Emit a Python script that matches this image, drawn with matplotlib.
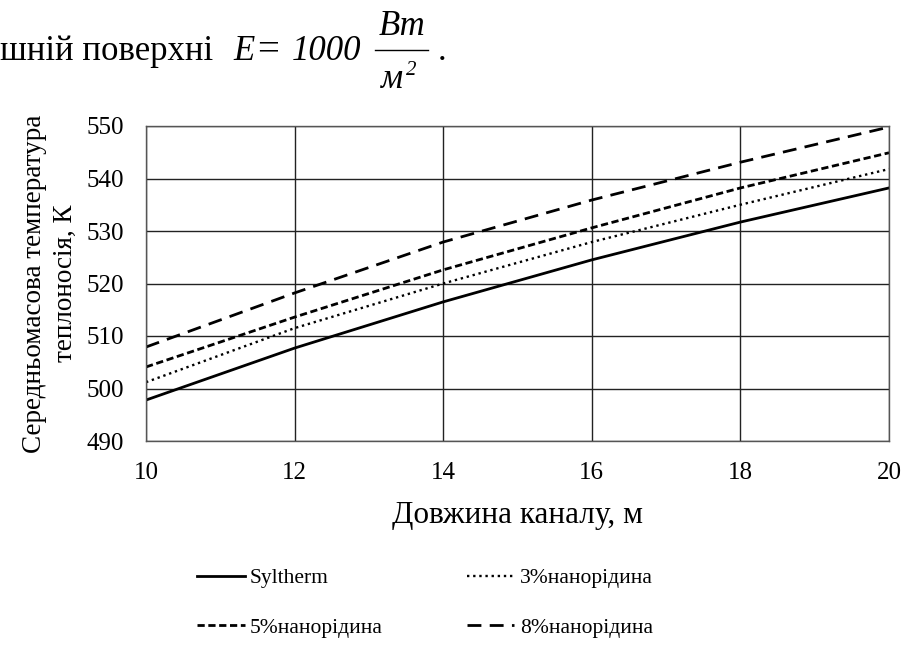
import numpy as np
import matplotlib.pyplot as plt
from matplotlib.lines import Line2D

plt.rcParams['font.family'] = ['Liberation Serif', 'DejaVu Serif']

# values
length = [10, 12, 14, 16, 18, 20]
syltherm = [497.8, 507.7, 516.5, 524.5, 531.7, 538.2]
nano3 = [501.2, 511.5, 520.0, 527.9, 535.0, 541.8]
nano5 = [504.1, 513.6, 522.6, 530.6, 538.2, 544.9]
nano8 = [507.9, 518.2, 527.9, 535.9, 543.1, 549.8]

W, H = 904, 665
fig = plt.figure(figsize=(W / 100, H / 100), dpi=100)
ax = fig.add_axes([146 / W, 1 - 441 / H, 743 / W, 315 / H])

l1, = ax.plot(length, syltherm, color='black', lw=2.0, ls='-')
l3, = ax.plot(length, nano3, color='black', lw=1.7, ls=(0, (1, 1.6)))
l5, = ax.plot(length, nano5, color='black', lw=2.0, ls=(0, (2.6, 1.3)))
l8, = ax.plot(length, nano8, color='black', lw=2.0, ls=(0, (5, 3)))

ax.set_xlim(10, 20)
ax.set_ylim(490, 550)
ax.set_xticks(range(10, 21, 2))
ax.set_yticks(range(490, 551, 10))
ax.grid(True, color='#222222', lw=1.0)
ax.tick_params(axis='y', length=0, labelsize=18, pad=16)
ax.tick_params(axis='x', length=0, labelsize=18, pad=15)
for s in ax.spines.values():
    s.set_color('#555555')
    s.set_linewidth(1.0)

ax.set_xlabel('Довжина каналу, м', fontsize=22.5, labelpad=12)
ax.set_ylabel('Середньомасова температура\nтеплоносія, К', fontsize=19.5,
              labelpad=6, linespacing=1.3)

fig.legend([l1, l5, l3, l8],
           ['Syltherm', '5%нанорідина', '3%нанорідина', '8%нанорідина'],
           ncol=2, loc='upper left', bbox_to_anchor=(178 / W, 1 - 549 / H),
           frameon=False, fontsize=15.5, handlelength=2.2, handletextpad=0.25,
           columnspacing=3.9, labelspacing=1.35)

# header line above the chart
fs = 25
fig.text(0.0, 1 - 60 / H, 'шній поверхні', fontsize=fs, va='baseline')
fig.text(233 / W, 1 - 60 / H, 'E', fontsize=fs, va='baseline', style='italic')
fig.text(257 / W, 1 - 60 / H, '=', fontsize=fs + 3, va='baseline')
fig.text(292 / W, 1 - 60 / H, '1000', fontsize=fs, va='baseline', style='italic')
fig.text(402 / W, 1 - 35 / H, 'Вт', fontsize=fs, va='baseline', ha='center',
         style='italic')
fig.text(392 / W, 1 - 88 / H, 'м', fontsize=fs, va='baseline', ha='center',
         style='italic')
fig.text(406 / W, 1 - 75 / H, '2', fontsize=15, va='baseline', style='italic')
fig.add_artist(Line2D([375 / W, 428 / W], [1 - 50 / H, 1 - 50 / H],
                      color='black', lw=1.0))
fig.text(438 / W, 1 - 60 / H, '.', fontsize=fs, va='baseline')

fig.savefig('out.png', dpi=100)
